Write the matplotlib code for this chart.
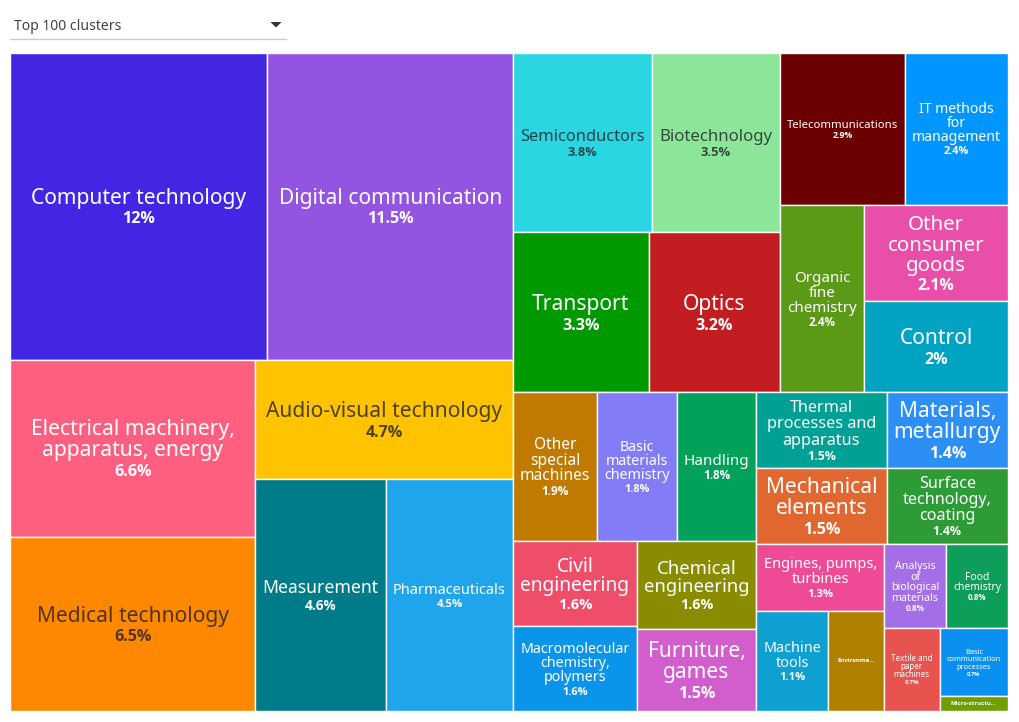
import matplotlib
matplotlib.use("Agg")
import matplotlib.pyplot as plt
from matplotlib.patches import Rectangle, Polygon
import matplotlib.colors as mcolors
import numpy as np

plt.rcParams['font.family'] = ['Noto Sans', 'DejaVu Sans']

# clusters, largest first (this order is also the layout order)
labels = [
    "Computer technology", "Digital communication",
    "Electrical machinery,\napparatus, energy", "Medical technology",
    "Audio-visual technology", "Measurement", "Pharmaceuticals",
    "Semiconductors", "Biotechnology", "Transport", "Optics",
    "Telecommunications", "IT methods\nfor\nmanagement", "Organic\nfine\nchemistry",
    "Other\nconsumer\ngoods", "Control", "Other\nspecial\nmachines",
    "Basic\nmaterials\nchemistry", "Handling", "Civil\nengineering",
    "Macromolecular\nchemistry,\npolymers", "Chemical\nengineering", "Furniture,\ngames",
    "Thermal\nprocesses and\napparatus", "Mechanical\nelements", "Materials,\nmetallurgy",
    "Surface\ntechnology,\ncoating", "Engines, pumps,\nturbines", "Machine\ntools",
    "Environme...", "Analysis\nof\nbiological\nmaterials", "Food\nchemistry",
    "Textile and\npaper\nmachines", "Basic\ncommunication\nprocesses", "Micro-structu...",
]
shares = [
    12.0, 11.5, 6.6, 6.5, 4.7, 4.6, 4.5,
    3.8, 3.5, 3.3, 3.2, 2.9, 2.4, 2.4, 2.1, 2.0,
    1.9, 1.8, 1.8, 1.6, 1.6, 1.6, 1.5, 1.5, 1.5, 1.4, 1.4,
    1.3, 1.1, 0.85, 0.8, 0.8, 0.7, 0.7, 0.16,
]
colors = [
    "#4326E3", "#9355E1", "#FE5F80", "#FF8800", "#FFC300", "#007B8A", "#1FA5EC",
    "#29D6E2", "#8BE69A", "#009900", "#C21E22", "#6C0000", "#0095FF", "#5B9A16",
    "#E94EA9", "#00A3C2", "#C07A00", "#837CF7", "#00A25A", "#EF4E6B",
    "#0A95EA", "#8A8C00", "#D15ECC", "#00A095", "#E06830", "#2B8FF5",
    "#2E9C36", "#EF4A96", "#0DA0D0", "#B08100", "#A46EE6", "#0D9E5A",
    "#E8524F", "#0A90F0", "#6E9E00",
]


def binary_layout(values, x0, y0, x1, y1):
    # same idea as d3 treemapBinary: split the list where the running sum is nearest half
    sums = [0]
    for v in values:
        sums.append(sums[-1] + v)
    rects = [None] * len(values)

    def part(i, j, value, x0, y0, x1, y1):
        if i >= j - 1:
            rects[i] = (x0, y0, x1, y1)
            return
        off = sums[i]
        target = value / 2 + off
        k, hi = i + 1, j - 1
        while k < hi:
            mid = (k + hi) // 2
            if sums[mid] < target:
                k = mid + 1
            else:
                hi = mid
        if target - sums[k - 1] < sums[k] - target and i + 1 < k:
            k -= 1
        left = sums[k] - off
        right = value - left
        if (x1 - x0) > (y1 - y0):
            xk = (x0 * right + x1 * left) / value
            part(i, k, left, x0, y0, xk, y1)
            part(k, j, right, xk, y0, x1, y1)
        else:
            yk = (y0 * right + y1 * left) / value
            part(i, k, left, x0, y0, x1, yk)
            part(k, j, right, x0, yk, x1, y1)

    part(0, len(values), sums[-1], x0, y0, x1, y1)
    return rects


def luminance(c):
    rgb = mcolors.to_rgb(c)
    lin = [v / 12.92 if v <= 0.03928 else ((v + 0.055) / 1.055) ** 2.4 for v in rgb]
    return 0.2126 * lin[0] + 0.7152 * lin[1] + 0.0722 * lin[2]


def text_colour(c):
    if luminance(c) > 0.36:
        # dark text, slightly tinted by the cell colour
        return tuple(0.8 * 0x22 / 255 + 0.2 * np.array(mcolors.to_rgb(c)))
    return 'white'


fig = plt.figure(figsize=(10.2, 7.22), dpi=100)
ax = fig.add_axes([0, 0, 1, 1])
ax.set_xlim(0, 1020)
ax.set_ylim(722, 0)
ax.axis('off')

PT = 72 / 100  # points per pixel
BOLD = ['Open Sans', 'DejaVu Sans']
renderer = fig.canvas.get_renderer()


def text_width(s, px, bold=False):
    if bold:
        t = ax.text(0, 0, s, fontsize=px * PT, fontweight='bold', family=BOLD)
    else:
        t = ax.text(0, 0, s, fontsize=px * PT)
    w = t.get_window_extent(renderer).width
    t.remove()
    return w


rects = binary_layout(shares, 10.5, 52.5, 1008, 711)

MAXPX = 21
for lab, val, col, (x0, y0, x1, y1) in zip(labels, shares, colors, rects):
    ax.add_patch(Rectangle((x0, y0), x1 - x0, y1 - y0, facecolor=col,
                           edgecolor='white', linewidth=1.0))
    tc = text_colour(col)
    cx, cy = (x0 + x1) / 2, (y0 + y1) / 2

    if lab.endswith('...'):
        ax.text(cx, cy, lab, fontsize=6 * PT, fontweight='bold', family=BOLD,
                color=tc, ha='center', va='center')
        continue

    lines = lab.split('\n')
    pct = f"{round(val, 1):g}%"
    n = len(lines)
    maxw = max([text_width(l, MAXPX) for l in lines] +
               [text_width(pct, 0.77 * MAXPX, True)])
    block = (0.72 + (n - 1) * 1.0 + 0.93) * MAXPX
    s = min(1.0, (x1 - x0 - 14) / maxw, 0.78 * (y1 - y0) / block)
    L = MAXPX * s
    top = cy - block * s / 2
    b0 = top + 0.72 * L
    for i, line in enumerate(lines):
        ax.text(cx, b0 + i * L, line, fontsize=L * PT, color=tc,
                ha='center', va='baseline')
    ax.text(cx, b0 + (n - 1) * L + 0.93 * L, pct, fontsize=0.77 * L * PT,
            fontweight='bold', family=BOLD, color=tc, ha='center', va='baseline')

# dropdown above the chart
ax.text(14, 29.5, "Top 100 clusters", fontsize=14 * PT, color='#444444',
        ha='left', va='baseline')
ax.plot([10, 286], [38.5, 38.5], color='#cccccc', linewidth=1.0)
ax.add_patch(Polygon([[270.5, 22], [281.5, 22], [276, 27.5]], closed=True,
                     facecolor='#333333', edgecolor='none'))

fig.savefig('out.png', dpi=100)
